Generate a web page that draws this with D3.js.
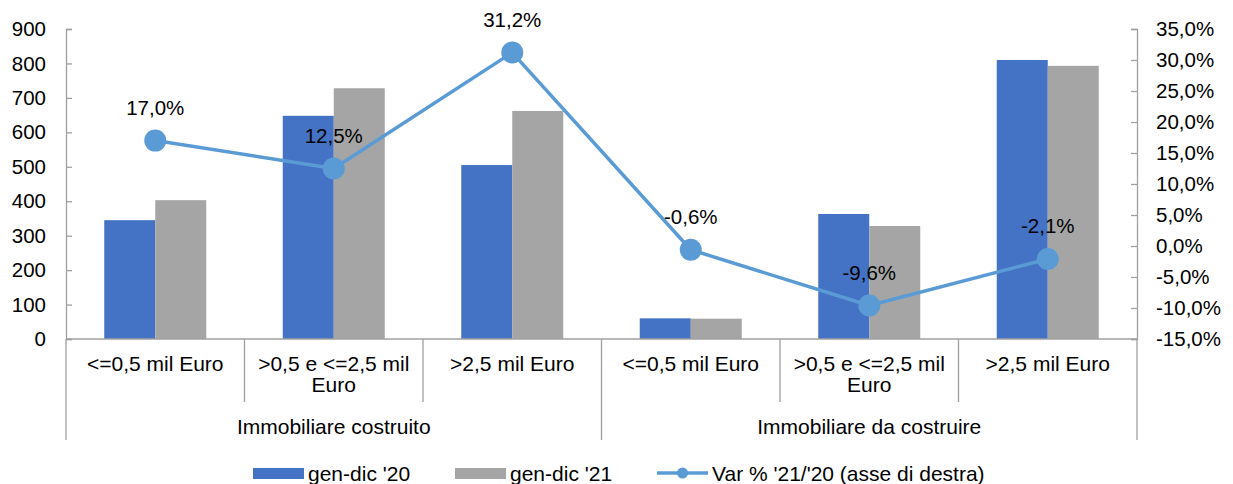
<!DOCTYPE html>
<html><head><meta charset="utf-8">
<script src="https://cdn.jsdelivr.net/npm/d3@7"></script>
<style>
html,body{margin:0;padding:0;background:#fff;}
text{font-family:"Liberation Sans",Arial,sans-serif;fill:#000;}
</style></head>
<body><svg id="c" width="1233" height="484"></svg>
<script>
const categories = ["<=0,5 mil Euro", ">0,5 e <=2,5 mil Euro", ">2,5 mil Euro", "<=0,5 mil Euro", ">0,5 e <=2,5 mil Euro", ">2,5 mil Euro"];
const categoryLines = [["<=0,5 mil Euro"], [">0,5 e <=2,5 mil", "Euro"], [">2,5 mil Euro"], ["<=0,5 mil Euro"], [">0,5 e <=2,5 mil", "Euro"], [">2,5 mil Euro"]];
const groups = ["Immobiliare costruito", "Immobiliare da costruire"];
const groupSize = 3;
const gen20 = [345, 648, 505, 60, 363, 810];
const gen21 = [403, 728, 662, 59, 328, 793];
const varPct = [17.0, 12.5, 31.2, -0.6, -9.6, -2.1];
const leftTicks = [0, 100, 200, 300, 400, 500, 600, 700, 800, 900];
const rightTicks = [-15, -10, -5, 0, 5, 10, 15, 20, 25, 30, 35];
const seriesNames = ["gen-dic '20", "gen-dic '21", "Var % '21/'20 (asse di destra)"];
const colors = ["#4472C4", "#A5A5A5", "#5B9BD5"];

const svg = d3.select("#c");
const L = 66, R = 1137, T = 29, B = 339;
const fmt = v => v.toFixed(1).replace(".", ",") + "%";

const x = d3.scaleBand().domain(d3.range(categories.length)).range([L, R]).padding(0);
const yL = d3.scaleLinear().domain([0, 900]).range([B, T]);
const yR = d3.scaleLinear().domain([-15, 35]).range([B, T]);
const bw = x.bandwidth();
const barW = bw / 3.5;
const xs = d3.scaleBand().domain([0, 1]).range([0.75 * barW, bw - 0.75 * barW]).padding(0);

const axisColor = "#A0A0A0";

// left axis
const gL = svg.append("g").attr("transform", `translate(${L},0)`)
  .call(d3.axisLeft(yL).tickValues(leftTicks).tickSize(-6).tickPadding(20));
// right axis
const gR = svg.append("g").attr("transform", `translate(${R},0)`)
  .call(d3.axisRight(yR).tickValues(rightTicks).tickFormat(fmt).tickSize(-6).tickPadding(19));
[gL, gR].forEach(g => {
  g.select(".domain").attr("stroke", axisColor).attr("stroke-width", 1.3);
  g.selectAll(".tick line").attr("stroke", axisColor).attr("stroke-width", 1.3);
  g.selectAll(".tick text").attr("font-size", "20.5px").attr("font-family", "Liberation Sans, Arial, sans-serif").attr("fill", "#000");
});

// bars
const series = [gen20, gen21];
series.forEach((vals, si) => {
  svg.append("g").selectAll("rect").data(vals).join("rect")
    .attr("x", (d, i) => x(i) + xs(si))
    .attr("width", xs.bandwidth())
    .attr("y", d => yL(d))
    .attr("height", d => yL(0) - yL(d))
    .attr("fill", colors[si]);
});

// category axis
svg.append("line").attr("x1", L).attr("x2", R).attr("y1", B).attr("y2", B)
  .attr("stroke", axisColor).attr("stroke-width", 1.3);
for (let i = 0; i <= categories.length; i++) {
  const xx = i === categories.length ? R : x(i);
  const longT = i % groupSize === 0;
  svg.append("line").attr("x1", xx).attr("x2", xx).attr("y1", B).attr("y2", longT ? 440 : 402)
    .attr("stroke", axisColor).attr("stroke-width", 1.3);
}
categoryLines.forEach((lines, i) => {
  const t = svg.append("text").attr("text-anchor", "middle").attr("font-size", "21px");
  lines.forEach((ln, j) => {
    t.append("tspan").attr("x", x(i) + bw / 2).attr("y", 371 + j * 21).text(ln);
  });
});
groups.forEach((g, gi) => {
  const x0 = x(gi * groupSize), x1 = (gi + 1) * groupSize >= categories.length ? R : x((gi + 1) * groupSize);
  svg.append("text").attr("x", (x0 + x1) / 2).attr("y", 434).attr("text-anchor", "middle")
    .attr("font-size", "21px").text(g);
});

// line
const line = d3.line().x((d, i) => x(i) + bw / 2).y(d => yR(d));
svg.append("path").datum(varPct).attr("d", line).attr("fill", "none")
  .attr("stroke", colors[2]).attr("stroke-width", 3.5).attr("stroke-linejoin", "round");
svg.append("g").selectAll("circle").data(varPct).join("circle")
  .attr("cx", (d, i) => x(i) + bw / 2).attr("cy", d => yR(d)).attr("r", 11)
  .attr("fill", colors[2]);
svg.append("g").selectAll("text").data(varPct).join("text")
  .attr("x", (d, i) => x(i) + bw / 2).attr("y", d => yR(d) - 33).attr("dy", "0.36em")
  .attr("text-anchor", "middle").attr("font-size", "20.5px").text(fmt);

// legend
const lg = svg.append("g");
const legendItems = [
  {x: 253, type: "bar", c: colors[0], t: seriesNames[0]},
  {x: 455, type: "bar", c: colors[1], t: seriesNames[1]},
  {x: 657, type: "line", c: colors[2], t: seriesNames[2]}
];
const ly = 473;
legendItems.forEach(it => {
  if (it.type === "bar") {
    lg.append("rect").attr("x", it.x).attr("y", ly - 5).attr("width", 51).attr("height", 11).attr("fill", it.c);
  } else {
    lg.append("line").attr("x1", it.x).attr("x2", it.x + 51).attr("y1", ly).attr("y2", ly)
      .attr("stroke", it.c).attr("stroke-width", 3.5);
    lg.append("circle").attr("cx", it.x + 25.5).attr("cy", ly).attr("r", 5.5).attr("fill", it.c);
  }
  lg.append("text").attr("x", it.x + 55).attr("y", ly).attr("dy", "0.36em").attr("font-size", "21px").text(it.t);
});
</script></body></html>
